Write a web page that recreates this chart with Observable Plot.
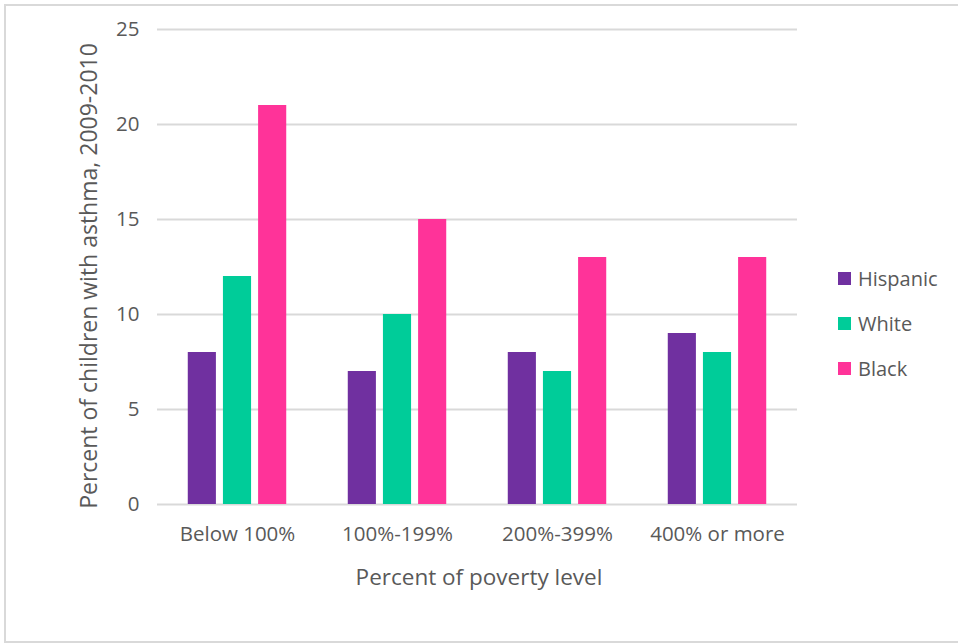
<!DOCTYPE html>
<html>
<head>
<meta charset="utf-8">
<script src="https://cdn.jsdelivr.net/npm/d3@7"></script>
<script src="https://cdn.jsdelivr.net/npm/@observablehq/plot@0.6"></script>
<style>
  html, body { margin: 0; padding: 0; background: #fff; }
  #wrap { position: relative; width: 958px; height: 643px; overflow: hidden; font-family: "Open Sans", sans-serif; color: #595959; }
  #frame { position: absolute; left: 4px; top: 4px; width: 970px; height: 635px; border: 2px solid #d9d9d9; box-sizing: content-box; }
  #chart { position: absolute; left: 0; top: 0; }
  .title { position: absolute; white-space: nowrap; }
  #ytitle { left: 88px; top: 276px; font-size: 23px; transform: translate(-50%, -50%) rotate(-90deg); }
  #xtitle { left: 479px; top: 576px; font-size: 22.5px; transform: translate(-50%, -50%); }
  #legend { position: absolute; left: 838px; top: 256px; font-size: 20px; }
  .item { display: flex; align-items: center; height: 45px; }
  .sw { width: 13px; height: 13px; margin-right: 7px; }
</style>
</head>
<body>
<div id="wrap">
  <div id="frame"></div>
  <div id="chart"></div>
  <div class="title" id="ytitle"></div>
  <div class="title" id="xtitle"></div>
  <div id="legend"></div>
</div>
<script>
// Poverty-level groups and asthma prevalence (%) by race/ethnicity
const groups = ["Below 100%", "100%-199%", "200%-399%", "400% or more"];
const races = ["Hispanic", "White", "Black"];
const hispanic = [8, 7, 8, 9];
const white = [12, 10, 7, 8];
const black = [21, 15, 13, 13];
const colors = ["#7030A0", "#00CC99", "#FF3399"];
const yTicks = [0, 5, 10, 15, 20, 25];
const yLabel = "Percent of children with asthma, 2009-2010";
const xLabel = "Percent of poverty level";

const series = [hispanic, white, black];
const rows = [];
groups.forEach((g, i) => {
  races.forEach((r, j) => rows.push({group: g, race: r, value: series[j][i]}));
});

const chart = Plot.plot({
  width: 958,
  height: 643,
  marginLeft: 156,
  marginRight: 161,
  marginTop: 29,
  marginBottom: 139,
  style: {fontFamily: "'Open Sans', sans-serif", fontSize: "20.5px", color: "#595959", background: "transparent"},
  fx: {domain: groups, padding: 0, axis: "bottom", tickSize: 0, tickPadding: 22, label: null},
  x: {domain: races, paddingInner: 0.2, paddingOuter: 0.875, round: false, axis: null},
  y: {domain: [0, 25], ticks: yTicks, tickSize: 0, tickPadding: 18, label: null},
  color: {domain: races, range: colors},
  marks: [
    Plot.ruleY(yTicks, {stroke: "#d9d9d9", strokeWidth: 2}),
    Plot.barY(rows, {fx: "group", x: "race", y: "value", fill: "race"})
  ]
});
document.getElementById("chart").appendChild(chart);

document.getElementById("ytitle").textContent = yLabel;
document.getElementById("xtitle").textContent = xLabel;

const legend = document.getElementById("legend");
races.forEach((r, j) => {
  const item = document.createElement("div");
  item.className = "item";
  const sw = document.createElement("span");
  sw.className = "sw";
  sw.style.background = colors[j];
  const label = document.createElement("span");
  label.textContent = r;
  item.appendChild(sw);
  item.appendChild(label);
  legend.appendChild(item);
});
</script>
</body>
</html>
